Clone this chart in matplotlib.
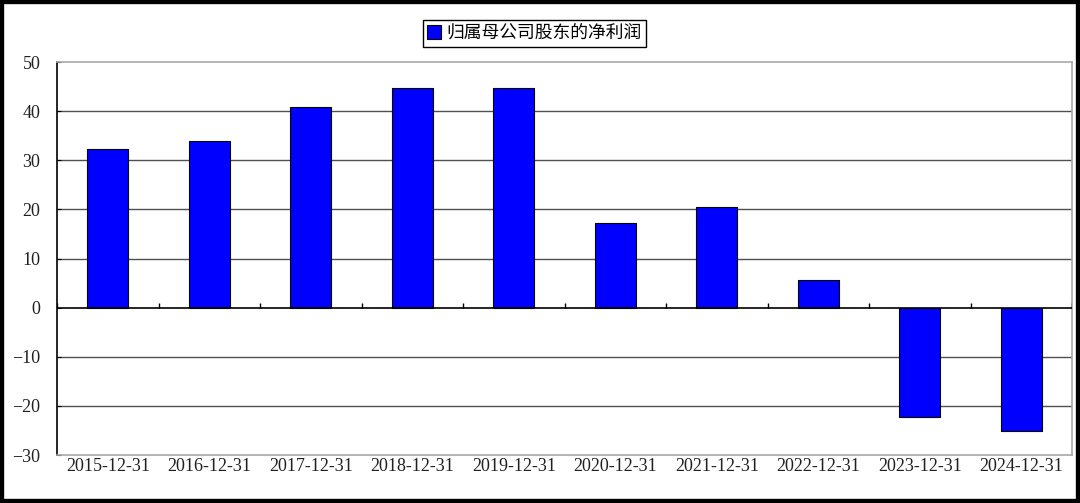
import numpy as np
import matplotlib.pyplot as plt
from matplotlib.patches import Rectangle

"""DATA"""
dates = ["2015-12-31", "2016-12-31", "2017-12-31", "2018-12-31", "2019-12-31",
         "2020-12-31", "2021-12-31", "2022-12-31", "2023-12-31", "2024-12-31"]
net_profit = [32.2, 34.0, 40.9, 44.8, 44.8, 17.3, 20.4, 5.7, -22.2, -25.2]
series_name = "归属母公司股东的净利润"
y_ticks = [-30, -20, -10, 0, 10, 20, 30, 40, 50]
"""END DATA"""

serif = ["Liberation Serif", "DejaVu Serif"]
cjk = ["Noto Sans CJK SC", "DejaVu Sans"]

fig = plt.figure(figsize=(10.8, 5.03), dpi=100)
ax = fig.add_axes([0.0528, 0.0954, 0.9398, 0.7813])

x = np.arange(len(dates))
bars = ax.bar(x, net_profit, width=0.4, color="#0000ff", edgecolor="black",
              linewidth=0.8, label=series_name, zorder=3)

ax.set_xlim(-0.5, len(dates) - 0.5)
ax.set_ylim(y_ticks[0], y_ticks[-1])

# grid lines and zero line
for v in y_ticks[1:-1]:
    if v == 0:
        ax.axhline(v, color="black", lw=1.2, zorder=4)
    else:
        ax.axhline(v, color="#505050", lw=1.0, zorder=1)

# category boundary ticks sitting on the zero line
bounds = np.arange(len(dates) + 1) - 0.5
ax.vlines(bounds, 0, 1.0, color="black", lw=1.0, zorder=4)

ax.set_xticks(x)
ax.set_xticklabels(dates, family=serif, fontsize=13, color="#202020")
ax.tick_params(axis="x", length=0, pad=2)
ax.set_yticks(y_ticks)
ax.set_yticklabels([str(v).replace("-", "\u2212") for v in y_ticks],
                   family=serif, fontsize=13, color="#202020")
ax.tick_params(axis="y", length=3, direction="in", pad=12)

ax.spines["left"].set_color("black")
ax.spines["left"].set_linewidth(1.2)
for s in ["top", "right", "bottom"]:
    ax.spines[s].set_color("#a8a8a8")
    ax.spines[s].set_linewidth(1.2)

leg = fig.legend(loc="center", bbox_to_anchor=(0.495, 0.934), fancybox=False,
                 framealpha=1, edgecolor="black", handlelength=0.8, handleheight=0.8,
                 handletextpad=0.3, borderpad=0.25, borderaxespad=0,
                 prop={"family": cjk, "size": 12.8})
leg.get_frame().set_linewidth(1.0)

# thick black frame around the picture
fig.patches.append(Rectangle((0, 0), 1, 1, transform=fig.transFigure, fill=False,
                             edgecolor="black", linewidth=6))

fig.savefig("out.png", dpi=100)
